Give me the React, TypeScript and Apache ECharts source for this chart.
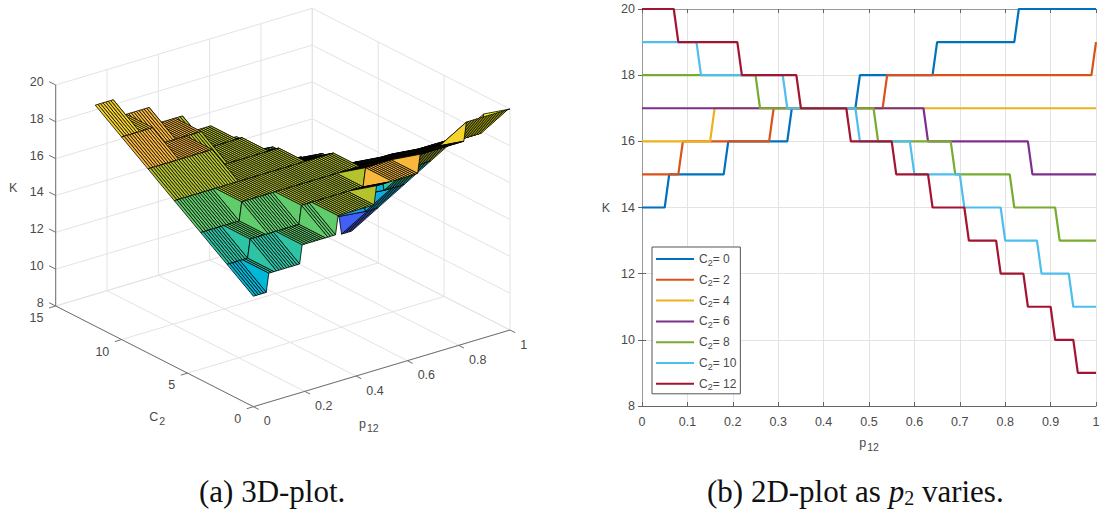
import React, { useEffect, useRef } from "react";
import * as echarts from "echarts";

// Each run: [last p at which K holds, K]
const runsC0 = [[0.05, 14], [0.18, 15], [0.32, 16], [0.47, 17], [0.64, 18], [0.82, 19], [1, 20]];
const runsC2 = [[0.08, 15], [0.28, 16], [0.53, 17], [0.99, 18], [1, 19]];
const runsC4 = [[0.15, 16], [1, 17]];
const runsC6 = [[0.62, 17], [0.85, 16], [1, 15]];
const runsC8 = [[0.25, 18], [0.51, 17], [0.68, 16], [0.81, 15], [0.91, 14], [1, 13]];
const runsC10 = [[0.12, 19], [0.31, 18], [0.47, 17], [0.59, 16], [0.7, 15], [0.79, 14], [0.87, 13], [0.94, 12], [1, 11]];
const runsC12 = [[0.07, 20], [0.21, 19], [0.34, 18], [0.45, 17], [0.55, 16], [0.63, 15], [0.71, 14], [0.78, 13], [0.84, 12], [0.9, 11], [0.95, 10], [1, 9]];

const c2Values = [0, 2, 4, 6, 8, 10, 12];
const allRuns = [runsC0, runsC2, runsC4, runsC6, runsC8, runsC10, runsC12];
const lineColors = ["#0072BD", "#D95319", "#EDB120", "#7E2F8E", "#77AC30", "#4DBEEE", "#A2142F"];

const pTicks3d = [0, 0.2, 0.4, 0.6, 0.8, 1];
const cTicks3d = [0, 5, 10, 15];
const kTicks3d = [8, 10, 12, 14, 16, 18, 20];

// Surface colour of a face, by K of its first corner
const faceColors: Record<number, string> = {
  9: "#3a4cf0", 10: "#3a58f4", 11: "#4060f8", 12: "#1c98e8", 13: "#0cacdc",
  14: "#00b8d8", 15: "#2cc4a4", 16: "#60cc6c", 17: "#b4c22c", 18: "#f8b83c",
  19: "#f4d42a", 20: "#f9fb15",
};

const P_STEPS = 100;

const kAt = (runs: number[][], i: number) => {
  for (const [last, k] of runs) if (i <= Math.round(last * 100)) return k;
  return runs[runs.length - 1][1];
};

const lineData = (runs: number[][]) => {
  const out: number[][] = [];
  let start = 0;
  for (const [last, k] of runs) {
    out.push([start, k]);
    if (last !== start) out.push([last, k]);
    start = Math.round((last + 0.01) * 100) / 100;
  }
  return out;
};

// projection of (p, C2, K) on the hidden left grid
const project = (p: number, c: number, k: number) => [
  0.4352 + 0.5648 * p - 0.4352 * (c / 15),
  0.1925 * p + 0.2528 * (c / 15) + 0.5547 * ((k - 8) / 12),
];

// faces, far ones first
const faceData: number[][] = [];
for (let i = P_STEPS - 1; i >= 0; i--) {
  for (let j = c2Values.length - 2; j >= 0; j--) {
    faceData.push([
      i / 100, (i + 1) / 100, c2Values[j], c2Values[j + 1],
      kAt(allRuns[j], i), kAt(allRuns[j], i + 1),
      kAt(allRuns[j + 1], i), kAt(allRuns[j + 1], i + 1),
    ]);
  }
}

const gridSegments: number[][] = [];
for (const p of pTicks3d) {
  gridSegments.push([p, 0, 8, p, 15, 8]);
  gridSegments.push([p, 15, 8, p, 15, 20]);
}
for (const c of cTicks3d) {
  gridSegments.push([0, c, 8, 1, c, 8]);
  gridSegments.push([1, c, 8, 1, c, 20]);
}
for (const k of kTicks3d) {
  gridSegments.push([0, 15, k, 1, 15, k]);
  gridSegments.push([1, 0, k, 1, 15, k]);
}

const axisSegments: number[][] = [
  [0, 15, 8, 0, 15, 20],
  [0, 0, 8, 0, 15, 8],
  [0, 0, 8, 1, 0, 8],
];
for (const k of kTicks3d) axisSegments.push([0, 15, k, 0, 15.5, k]);
for (const c of cTicks3d) axisSegments.push([0, c, 8, -0.026, c, 8]);
for (const p of pTicks3d) axisSegments.push([p, 0, 8, p, -0.4, 8]);

const TICK_FONT = "Liberation Sans";
const TEXT_COLOR = "#4a4a4a";
const TICK_SIZE = 12.5;
const subRich = {
  s: { fontSize: 10.5, fontFamily: TICK_FONT, fill: TEXT_COLOR, color: TEXT_COLOR, verticalAlign: "bottom", padding: [8, 0, 0, 1] },
};

export default function App() {
  const ref = useRef<HTMLDivElement>(null);
  useEffect(() => {
    const chart = echarts.init(ref.current!, null, { renderer: "svg" });

    const segItem = (color: string, width: number) => (_: any, api: any) => {
      const a = api.coord(project(api.value(0), api.value(1), api.value(2)));
      const b = api.coord(project(api.value(3), api.value(4), api.value(5)));
      return {
        type: "line",
        shape: { x1: a[0], y1: a[1], x2: b[0], y2: b[1] },
        style: { stroke: color, lineWidth: width },
      };
    };

    const tickLabel = (
      text: string, anchor: number[], dx: number, dy: number, align: string, api: any,
    ) => {
      const a = api.coord(project(anchor[0], anchor[1], anchor[2]));
      return {
        type: "text",
        x: a[0] + dx,
        y: a[1] + dy,
        style: {
          text, align, verticalAlign: "middle",
          fontFamily: TICK_FONT, fontSize: TICK_SIZE, fill: TEXT_COLOR, rich: subRich,
        },
      };
    };

    const series3d: any[] = [
      {
        type: "custom", name: "grid3d", xAxisIndex: 0, yAxisIndex: 0, silent: true, clip: false, z: 1,
        data: gridSegments, renderItem: segItem("#e3e3e3", 1),
      },
      {
        type: "custom", name: "axes3d", xAxisIndex: 0, yAxisIndex: 0, silent: true, clip: false, z: 1,
        data: axisSegments, renderItem: segItem("#707070", 1),
      },
      {
        type: "custom", name: "surface", xAxisIndex: 0, yAxisIndex: 0, silent: true, clip: false, z: 2,
        data: faceData,
        renderItem: (_: any, api: any) => {
          const p0 = api.value(0), p1 = api.value(1), c0 = api.value(2), c1 = api.value(3);
          const k00 = api.value(4), k10 = api.value(5), k01 = api.value(6), k11 = api.value(7);
          const pts = [
            project(p0, c0, k00), project(p1, c0, k10), project(p1, c1, k11), project(p0, c1, k01),
          ].map((q) => api.coord(q));
          return {
            type: "polygon",
            shape: { points: pts },
            style: { fill: faceColors[k00], stroke: "#000000", lineWidth: 0.8, lineJoin: "round" },
          };
        },
      },
      {
        type: "custom", name: "labels3d", xAxisIndex: 0, yAxisIndex: 0, silent: true, clip: false, z: 3,
        data: [...kTicks3d.map((k) => [0, k]), ...cTicks3d.map((c) => [1, c]), ...pTicks3d.map((p) => [2, p]), [3, 0], [4, 0], [5, 0]],
        renderItem: (_: any, api: any) => {
          const t = api.value(0), v = api.value(1);
          if (t === 0) return tickLabel(String(v), [0, 15, v], -12, -3, "right", api);
          if (t === 1) return tickLabel(String(v), [0, v, 8], -12.3, 12.3, "right", api);
          if (t === 2) return tickLabel(String(v), [v, 0, 8], 10.3, 14.6, "left", api);
          if (t === 3) return tickLabel("K", [0, 15, 14], -46.7, -7.5, "left", api);
          if (t === 4) return tickLabel("C{s|2}", [0, 7, 8], -12, 57, "left", api);
          return tickLabel("p{s|12}", [0.4, 0, 8], 3, 48, "left", api);
        },
      },
    ];

    const series2d: any[] = allRuns.map((runs, idx) => ({
      type: "line",
      name: `C2= ${c2Values[idx]}`,
      xAxisIndex: 1,
      yAxisIndex: 1,
      data: lineData(runs),
      color: lineColors[idx],
      showSymbol: false,
      symbol: "none",
      lineStyle: { width: 2.2, color: lineColors[idx] },
      z: 3,
    }));

    const axisStyle = { lineStyle: { color: "#666666", width: 1 } };
    const option: any = {
      animation: false,
      backgroundColor: "#ffffff",
      grid: [
        { left: 55.7, top: 8.3, width: 454.3, height: 398.4, show: false, outerBoundsMode: "none" },
        { left: 642, top: 9, width: 454, height: 397, show: false, outerBoundsMode: "none" },
      ],
      xAxis: [
        { type: "value", gridIndex: 0, min: 0, max: 1, show: false },
        {
          type: "value", gridIndex: 1, min: 0, max: 1, interval: 0.1, position: "bottom",
          axisLine: axisStyle, axisTick: { inside: true, length: 4, ...axisStyle },
          axisLabel: { color: TEXT_COLOR, fontFamily: TICK_FONT, fontSize: TICK_SIZE, margin: 9 },
          splitLine: { show: true, lineStyle: { color: "#e3e3e3", width: 1 } },
          name: "p{s|12}", nameLocation: "middle", nameGap: 27,
          nameTextStyle: { color: TEXT_COLOR, fontFamily: TICK_FONT, fontSize: TICK_SIZE, rich: subRich },
        },
        {
          type: "value", gridIndex: 1, min: 0, max: 1, interval: 0.1, position: "top",
          axisLine: { show: true, lineStyle: { color: "#999999", width: 1 } },
          axisTick: { inside: true, length: 4, ...axisStyle },
          axisLabel: { show: false }, splitLine: { show: false },
        },
      ],
      yAxis: [
        { type: "value", gridIndex: 0, min: 0, max: 1, show: false },
        {
          type: "value", gridIndex: 1, min: 8, max: 20, interval: 2, position: "left",
          axisLine: { show: true, ...axisStyle }, axisTick: { inside: true, length: 4, ...axisStyle },
          axisLabel: { color: TEXT_COLOR, fontFamily: TICK_FONT, fontSize: TICK_SIZE, margin: 7 },
          splitLine: { show: true, lineStyle: { color: "#e3e3e3", width: 1 } },
          name: "K", nameLocation: "middle", nameGap: 32, nameRotate: 0,
          nameTextStyle: { color: TEXT_COLOR, fontFamily: TICK_FONT, fontSize: TICK_SIZE },
        },
        {
          type: "value", gridIndex: 1, min: 8, max: 20, interval: 2, position: "right",
          axisLine: { show: true, lineStyle: { color: "#999999", width: 1 } },
          axisTick: { inside: true, length: 4, ...axisStyle },
          axisLabel: { show: false }, splitLine: { show: false },
        },
      ],
      legend: {
        left: 652, top: 247, orient: "vertical", selectedMode: false,
        icon: "rect", itemWidth: 38, itemHeight: 2, itemGap: 6.8,
        padding: [6, 4, 2, 4],
        backgroundColor: "#ffffff", borderColor: "#555555", borderWidth: 1,
        data: series2d.map((s) => s.name),
        formatter: (name: string) => name.replace("C2", "C{s|2}"),
        textStyle: {
          color: TEXT_COLOR, fontFamily: TICK_FONT, fontSize: 12,
          rich: { s: { ...subRich.s, fontSize: 9, padding: [7, 0, 0, 0] } },
        },
      },
      graphic: [
        {
          type: "text", left: 199, top: 476,
          style: { text: "(a) 3D-plot.", fontFamily: "Liberation Serif", fontSize: 31, fill: "#111111" },
        },
        {
          type: "text", left: 707, top: 476,
          style: {
            text: "(b) 2D-plot as {i|p}{u|2} varies.", fontFamily: "Liberation Serif", fontSize: 31, fill: "#111111",
            rich: {
              i: { fontFamily: "Liberation Serif", fontStyle: "italic", fontSize: 31, fill: "#111111" },
              u: { fontFamily: "Liberation Serif", fontSize: 20, fill: "#111111", verticalAlign: "bottom", padding: [12, 0, 0, 0] },
            },
          },
        },
      ],
      series: [...series3d, ...series2d],
    };
    chart.setOption(option);
    return () => chart.dispose();
  }, []);
  return <div ref={ref} style={{ position: "absolute", left: 0, top: 0, width: 1100, height: 511 }} />;
}
